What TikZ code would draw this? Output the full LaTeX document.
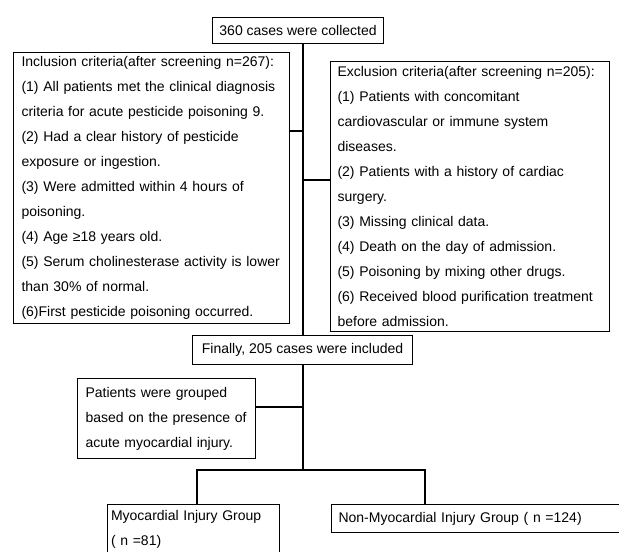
\documentclass[tikz,border=0pt]{standalone}
\usepackage{fontspec}
\setmainfont{Liberation Sans}
\begin{document}
\begin{tikzpicture}[x=1pt,y=-1pt,
  box/.style={draw, line width=1.1pt, anchor=north west, inner ysep=0pt,
    font=\fontsize{14}{25}\selectfont},
  leftbox/.style={box, align=left},
  conn/.style={line width=1.1pt}
]
\useasboundingbox (0,0) rectangle (619,552);
\fill[white] (0,0) rectangle (619,552);
\begin{scope}
\clip (0,0) rectangle (619,552);
% boxes
\node[box, minimum width=171pt, minimum height=26pt, inner xsep=0pt] (top) at (212,17) {360 cases were collected};
\node[leftbox, minimum width=276pt, minimum height=271pt, inner xsep=8pt, text width=260pt] (inc) at (13,52) {%
Inclusion criteria(after screening n=267):\\
(1) All patients met the clinical diagnosis\\
criteria for acute pesticide poisoning 9.\\
(2) Had a clear history of pesticide\\
exposure or ingestion.\\
(3) Were admitted within 4 hours of\\
poisoning.\\
(4) Age ≥18 years old.\\
(5) Serum cholinesterase activity is lower\\
than 30\% of normal.\\
(6)First pesticide poisoning occurred.};
\node[leftbox, minimum width=279pt, minimum height=270pt, inner xsep=7pt, text width=265pt] (exc) at (330,61) {%
Exclusion criteria(after screening n=205):\\
(1) Patients with concomitant\\
cardiovascular or immune system\\
diseases.\\
(2) Patients with a history of cardiac\\
surgery.\\
(3) Missing clinical data.\\
(4) Death on the day of admission.\\
(5) Poisoning by mixing other drugs.\\
(6) Received blood purification treatment\\
before admission.};
\node[box, minimum width=220pt, minimum height=29pt] (fin) at (192,335) {Finally, 205 cases were included};
\node[leftbox, minimum width=178pt, minimum height=80pt, inner xsep=8pt, text width=162pt] (pat) at (77,378) {%
Patients were grouped\\
based on the presence of\\
acute myocardial injury.};
\node[leftbox, minimum width=172pt, inner xsep=3.5pt, inner ysep=6pt, text width=165pt] (myo) at (107,504) {%
Myocardial Injury Group\\
( n =81)\\
\mbox{}};
\node[leftbox, minimum width=320pt, minimum height=28pt, inner xsep=7pt, text width=306pt] (non) at (331,504) {Non-Myocardial Injury Group ( n =124)};
% junctions
\coordinate (s0) at (303,0);
\coordinate (j1) at (303,131);
\coordinate (j2) at (303,180);
\coordinate (j3) at (303,407);
\coordinate (br) at (303,470);
\coordinate (bl) at (197,470);
\coordinate (bR) at (425,470);
% connectors
\draw[conn] (top.south -| s0) -- (fin.north -| s0);
\draw[conn] (inc.east |- j1) -- (j1);
\draw[conn] (j2) -- (exc.west |- j2);
\draw[conn] (fin.south -| s0) -- (br);
\draw[conn] (pat.east |- j3) -- (j3);
\draw[conn] (myo.north -| bl) -- (bl) -- (bR) -- (non.north -| bR);
\end{scope}
\end{tikzpicture}
\end{document}
